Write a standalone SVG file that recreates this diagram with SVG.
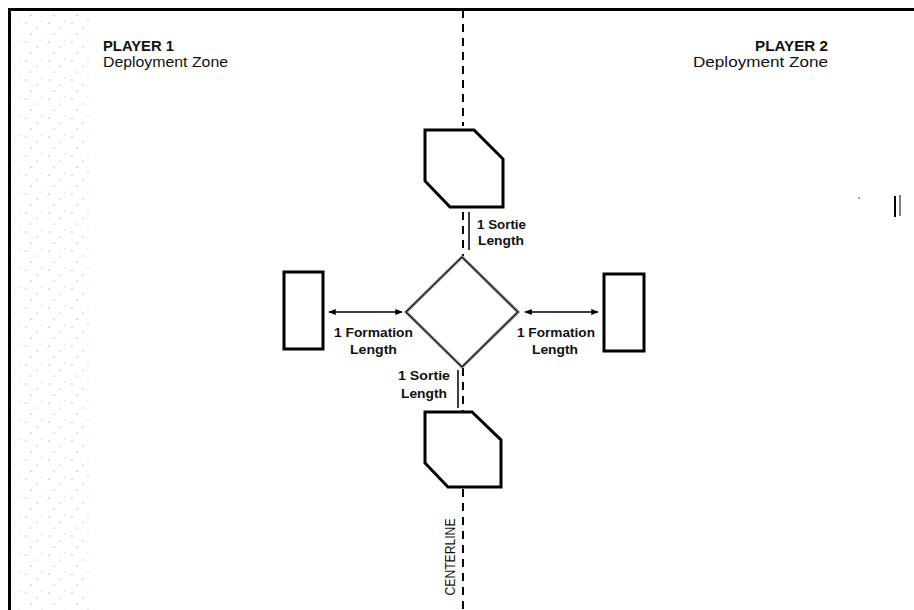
<svg xmlns="http://www.w3.org/2000/svg" width="914" height="610" viewBox="0 0 914 610">
<defs>
<style>
.t{font-family:"Liberation Sans","DejaVu Sans",sans-serif;font-size:15px;fill:#111}
.b{font-weight:bold}
.s{font-size:12.5px;font-weight:bold}
.oct{fill:#fff;stroke:#000;stroke-width:3;stroke-linejoin:miter}
.rect{fill:#fff;stroke:#000;stroke-width:3}
.dash{stroke:#000;stroke-width:2;stroke-dasharray:8 6;fill:none}
.ln{stroke:#000;stroke-width:1.5;fill:none}
</style>
<marker id="ah" viewBox="0 0 10 10" refX="9" refY="5" markerWidth="5" markerHeight="5" orient="auto-start-reverse">
<path d="M0,1 L10,5 L0,9 z" fill="#000"/>
</marker>
<pattern id="stip" width="23" height="19" patternUnits="userSpaceOnUse">
<circle cx="3" cy="4" r="0.6" fill="#777"/>
<circle cx="14" cy="9" r="0.6" fill="#888"/>
<circle cx="8" cy="15" r="0.6" fill="#777"/>
<circle cx="19" cy="2" r="0.5" fill="#999"/>
</pattern>
</defs>
<rect width="914" height="610" fill="#fff"/>
<rect x="14" y="14" width="78" height="596" fill="url(#stip)"/>
<path d="M9.5,620 V9.5 H930" fill="none" stroke="#000" stroke-width="3"/>

<g id="connectors">
<line class="dash" x1="463" y1="10" x2="463" y2="126"/>
<line class="dash" x1="463" y1="212" x2="463" y2="256"/>
<line class="dash" x1="463" y1="368" x2="463" y2="412"/>
<line class="dash" x1="463" y1="489" x2="463" y2="610"/>
<line class="ln" x1="469" y1="212" x2="469" y2="250"/>
<line class="ln" x1="458" y1="370" x2="458" y2="408"/>
<line class="ln" x1="329" y1="312" x2="402" y2="312" marker-start="url(#ah)" marker-end="url(#ah)"/>
<line class="ln" x1="525" y1="312" x2="598" y2="312" marker-start="url(#ah)" marker-end="url(#ah)"/>
</g>

<g id="player1">
<text class="t b" x="103" y="51" textLength="71" lengthAdjust="spacingAndGlyphs">PLAYER 1</text>
<text class="t" x="103" y="67" textLength="125" lengthAdjust="spacingAndGlyphs">Deployment Zone</text>
</g>
<g id="player2">
<text class="t b" x="828" y="51" text-anchor="end" textLength="73" lengthAdjust="spacingAndGlyphs">PLAYER 2</text>
<text class="t" x="828" y="67" text-anchor="end" textLength="135" lengthAdjust="spacingAndGlyphs">Deployment Zone</text>
</g>

<g id="top-sortie">
<polygon class="oct" points="425,130 474,130 503,159 503,207 450,207 425,181"/>
</g>
<g id="bottom-sortie">
<polygon class="oct" points="425,412 472,412 501,440 501,487 448,487 425,463"/>
</g>
<g id="center-formation">
<polygon points="462,257 518,312 462,367 406,312" fill="#fff" stroke="#777" stroke-width="3"/>
<polygon points="462,257 518,312 462,367 406,312" fill="none" stroke="#000" stroke-width="1"/>
</g>
<g id="left-formation">
<rect class="rect" x="284" y="272" width="39" height="77"/>
</g>
<g id="right-formation">
<rect class="rect" x="604" y="274" width="40" height="77"/>
</g>

<g id="labels">
<text class="t s" x="477" y="229" textLength="49" lengthAdjust="spacingAndGlyphs">1 Sortie</text>
<text class="t s" x="478" y="245" textLength="46" lengthAdjust="spacingAndGlyphs">Length</text>
<text class="t s" x="398" y="380" textLength="52" lengthAdjust="spacingAndGlyphs">1 Sortie</text>
<text class="t s" x="401" y="398" textLength="46" lengthAdjust="spacingAndGlyphs">Length</text>
<text class="t s" x="334" y="337" textLength="79" lengthAdjust="spacingAndGlyphs">1 Formation</text>
<text class="t s" x="350" y="354" textLength="47" lengthAdjust="spacingAndGlyphs">Length</text>
<text class="t s" x="517" y="337" textLength="78" lengthAdjust="spacingAndGlyphs">1 Formation</text>
<text class="t s" x="532" y="354" textLength="46" lengthAdjust="spacingAndGlyphs">Length</text>
<text class="t" x="0" y="0" font-size="15" text-anchor="middle" textLength="77" lengthAdjust="spacingAndGlyphs" transform="translate(455,557) rotate(-90)">CENTERLINE</text>
</g>

<g id="marks">
<line x1="895" y1="196" x2="895" y2="217" stroke="#000" stroke-width="2"/>
<line x1="900" y1="195" x2="900" y2="216" stroke="#000" stroke-width="1"/>
<circle cx="859" cy="198" r="0.8" fill="#333"/>
</g>
</svg>
